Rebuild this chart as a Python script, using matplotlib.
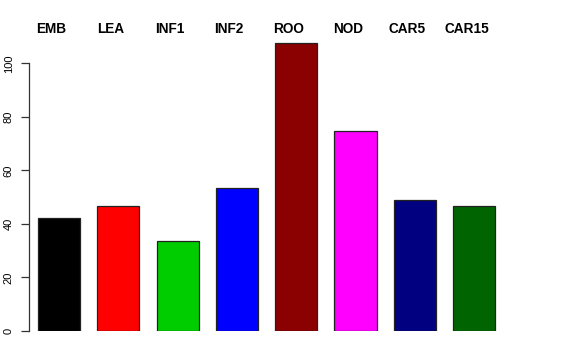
import matplotlib.pyplot as plt

plt.rcParams['font.family'] = ['Liberation Sans', 'DejaVu Sans']

# bar data
groups = ["EMB", "LEA", "INF1", "INF2", "ROO", "NOD", "CAR5", "CAR15"]
values = [42.1, 46.8, 33.5, 53.4, 107.6, 74.7, 48.9, 46.7]
colors = ["black", "red", "#00CD00", "blue", "#8B0000", "magenta", "#000080", "#006400"]
yticks = [0, 20, 40, 60, 80, 100]

W, H = 576, 360
fig = plt.figure(figsize=(5.76, 3.6), dpi=100)
ax = fig.add_axes([29 / W, (H - 331) / H, (500 - 29) / W, (331 - 36.5) / H])

x = list(range(len(groups)))
ax.bar(x, values, width=0.71, color=colors, edgecolor="#222222", linewidth=0.9)

for xi, g in zip(x, groups):
    ax.text(xi - 0.13, 112.8, g, ha="center", va="center", fontsize=9.8,
            fontweight="bold", clip_on=False)

ax.set_xlim(-0.506, 7.437)
ax.set_ylim(0, 110)
ax.set_xticks([])
ax.set_yticks(yticks)
ax.set_yticklabels([str(v) for v in yticks], rotation=90, va="center", fontsize=8,
                   family=['Liberation Sans Narrow', 'Liberation Sans'])
ax.tick_params(axis="y", length=6, width=0.9, pad=5, color="#333333")

for s in ["top", "right", "bottom"]:
    ax.spines[s].set_visible(False)
ax.spines["left"].set_bounds(0, 100)
ax.spines["left"].set_color("#333333")
ax.spines["left"].set_linewidth(0.9)

fig.savefig("out.png", dpi=100)
